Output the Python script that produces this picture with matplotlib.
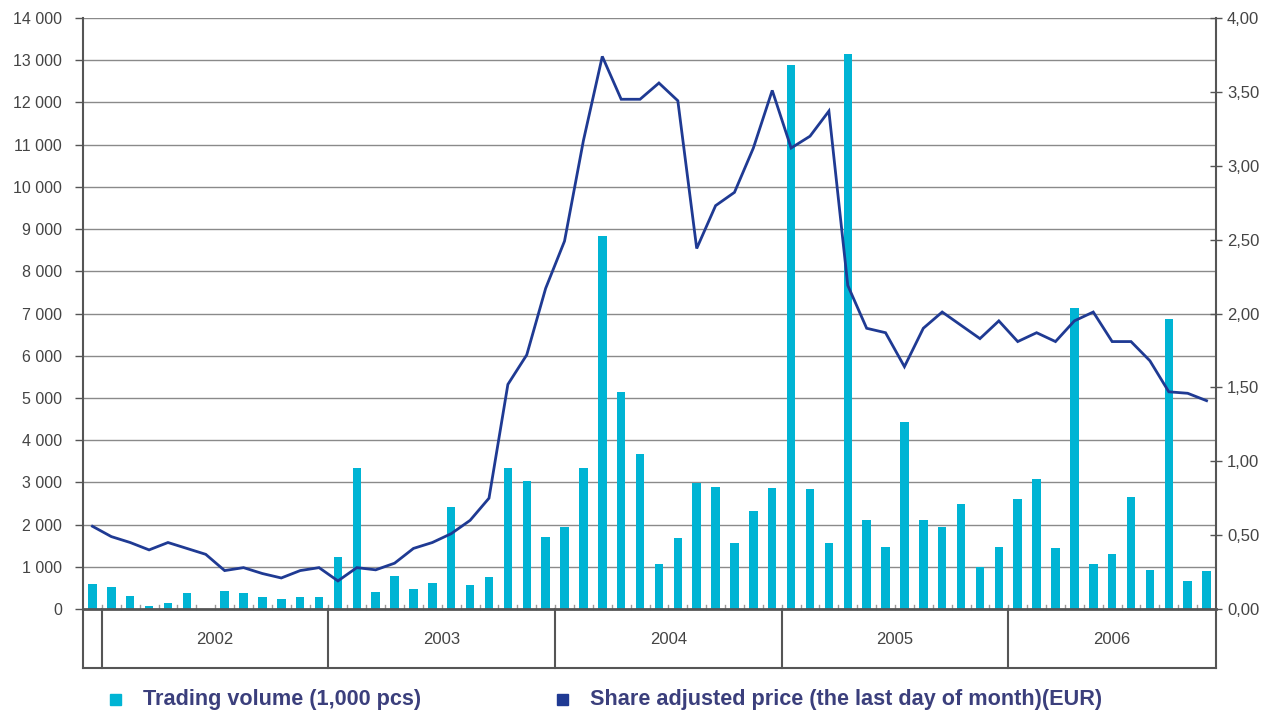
import matplotlib
matplotlib.use("Agg")
import matplotlib.pyplot as plt
from matplotlib.patches import Rectangle
from matplotlib.transforms import blended_transform_factory

plt.rcParams['font.family'] = ['Liberation Sans', 'DejaVu Sans']

# Monthly data, Dec 2001 .. Nov 2006
volume = [600, 530, 300, 60, 140, 370, 0, 420, 380, 280, 240, 290, 290,
          1240, 3340, 400, 780, 470, 610, 2420, 570, 760, 3340, 3040, 1710,
          1950, 3340, 8830, 5150, 3670, 1070, 1680, 2990, 2900, 1560, 2320, 2870,
          12880, 2850, 1575, 13140, 2100, 1470, 4430, 2100, 1950, 2490, 985, 1480,
          2600, 3090, 1440, 7130, 1060, 1310, 2650, 930, 6860, 660, 900]
price = [0.56, 0.49, 0.45, 0.40, 0.45, 0.41, 0.37, 0.26, 0.28, 0.24, 0.21, 0.26, 0.28,
         0.19, 0.28, 0.265, 0.31, 0.41, 0.45, 0.51, 0.60, 0.75, 1.52, 1.72, 2.17,
         2.49, 3.17, 3.74, 3.45, 3.45, 3.56, 3.44, 2.44, 2.73, 2.82, 3.12, 3.51,
         3.12, 3.20, 3.37, 2.19, 1.90, 1.87, 1.64, 1.90, 2.01, 1.92, 1.83, 1.95,
         1.81, 1.87, 1.81, 1.95, 2.01, 1.81, 1.81, 1.68, 1.47, 1.46, 1.41]
years = ["2002", "2003", "2004", "2005", "2006"]
year_bounds = [0.5, 12.5, 24.5, 36.5, 48.5, 59.5]
left_ticks = list(range(0, 14001, 1000))
right_ticks = [0, 0.5, 1.0, 1.5, 2.0, 2.5, 3.0, 3.5, 4.0]

bar_color = "#00b4d4"
line_color = "#1f3a93"
axis_color = "#555555"
grid_color = "#8a8a8a"
text_color = "#444444"
legend_text = "#3b3f7c"

fig = plt.figure(figsize=(12.73, 7.17), dpi=100)
ax = fig.add_axes([83 / 1273, 108 / 717, (1216 - 83) / 1273, (609 - 18) / 717])
x = list(range(len(volume)))

ax.bar(x, volume, width=0.45, color=bar_color, zorder=3)
ax.set_xlim(-0.5, 59.5)
ax.set_ylim(0, 14000)
ax.set_yticks(left_ticks)
ax.set_yticklabels([f"{v:,}".replace(",", " ") for v in left_ticks])
ax.tick_params(axis='y', direction='out', length=6, width=1, color=axis_color,
               labelsize=11.5, labelcolor=text_color, pad=9)
ax.set_xticks([])
for yv in left_ticks[1:]:
    ax.axhline(yv, color=grid_color, lw=1.0, zorder=1)

for side in ("top", "right", "bottom"):
    ax.spines[side].set_visible(False)
ax.spines["left"].set_color(axis_color)
ax.spines["left"].set_linewidth(1.5)

ax2 = ax.twinx()
ax2.plot(x, price, color=line_color, lw=2.0, zorder=4, solid_joinstyle='miter')
ax2.set_ylim(0, 4.0)
ax2.set_yticks(right_ticks)
ax2.set_yticklabels([f"{v:.2f}".replace(".", ",") for v in right_ticks])
ax2.tick_params(axis='y', direction='inout', length=8, width=1, color=axis_color,
                labelsize=12, labelcolor=text_color, pad=4)
for side in ("top", "left", "bottom"):
    ax2.spines[side].set_visible(False)
ax2.spines["right"].set_color(axis_color)
ax2.spines["right"].set_linewidth(1.5)

# Category band below the plot
trans = blended_transform_factory(ax.transData, ax.transAxes)
band_bottom = -(668 - 609) / (609 - 18)
ax.plot([-0.5, 59.5], [0, 0], transform=trans, color=axis_color, lw=2.0,
        clip_on=False, zorder=5)
ax.plot([-0.5, 59.5], [band_bottom, band_bottom], transform=trans,
        color=axis_color, lw=1.5, clip_on=False)
for xb in [-0.5] + year_bounds:
    ax.plot([xb, xb], [0, band_bottom], transform=trans, color=axis_color,
            lw=1.5, clip_on=False)
for i in range(len(volume) - 1):
    ax.plot([i + 0.5, i + 0.5], [0, 0.006], transform=trans, color="#999999",
            lw=1.0, clip_on=False)
for yr, a, b in zip(years, year_bounds[:-1], year_bounds[1:]):
    ax.text((a + b) / 2, band_bottom / 2 - 0.002, yr, transform=trans,
            ha='center', va='center', fontsize=12, color=text_color)

# Legend
fig.patches.append(Rectangle((110 / 1273, 1 - 705 / 717), 11 / 1273, 11 / 717,
                             transform=fig.transFigure, color=bar_color))
fig.text(143 / 1273, 1 - 699 / 717, "Trading volume (1,000 pcs)", fontsize=15.6,
         fontweight='bold', color=legend_text, va='center', ha='left')
fig.patches.append(Rectangle((557 / 1273, 1 - 705 / 717), 11 / 1273, 11 / 717,
                             transform=fig.transFigure, color=line_color))
fig.text(590 / 1273, 1 - 699 / 717,
         "Share adjusted price (the last day of month)(EUR)", fontsize=15.6,
         fontweight='bold', color=legend_text, va='center', ha='left')

fig.savefig("out.png", dpi=100)
